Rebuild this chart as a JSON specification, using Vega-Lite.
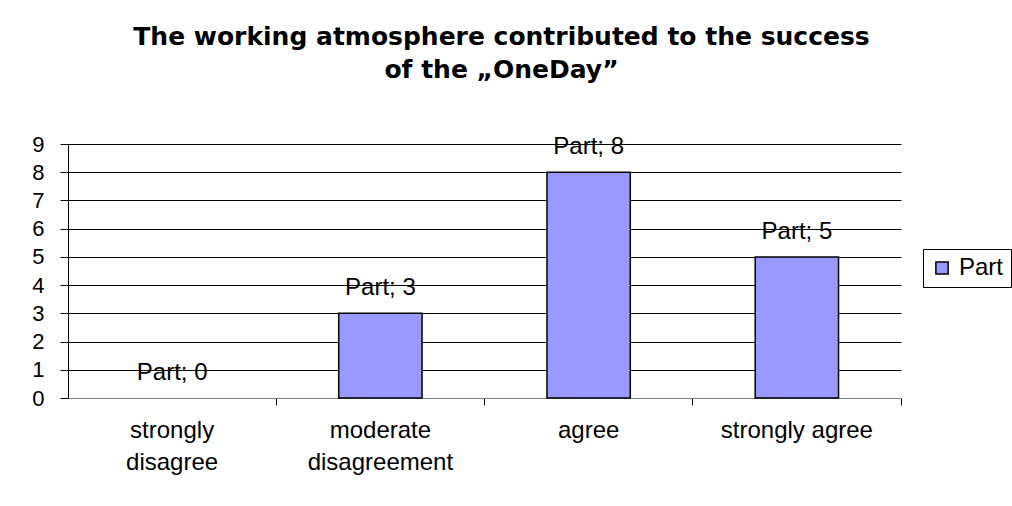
{
  "$schema": "https://vega.github.io/schema/vega-lite/v6.json",
  "autosize": {"type": "none"},
  "padding": {"left": 68, "top": 144, "right": 111, "bottom": 108},
  "width": 833,
  "height": 254,
  "background": "white",
  "title": {
    "text": ["The working atmosphere contributed to the success", "of the „OneDay”"],
    "font": "DejaVu Sans",
    "fontSize": 25,
    "fontWeight": "bold",
    "color": "#000000",
    "lineHeight": 33,
    "anchor": "middle",
    "dx": 17,
    "offset": 50
  },
  "data": {
    "values": [
      {"category": "strongly disagree", "series": "Part", "value": 0, "label": "Part; 0"},
      {"category": "moderate disagreement", "series": "Part", "value": 3, "label": "Part; 3"},
      {"category": "agree", "series": "Part", "value": 8, "label": "Part; 8"},
      {"category": "strongly agree", "series": "Part", "value": 5, "label": "Part; 5"}
    ]
  },
  "encoding": {
    "x": {
      "field": "category",
      "type": "nominal",
      "sort": null,
      "scale": {"paddingInner": 0, "paddingOuter": 0},
      "axis": {
        "title": null,
        "labelAngle": 0,
        "labelFont": "Liberation Sans",
        "labelFontSize": 24,
        "labelColor": "#000000",
        "labelLineHeight": 32,
        "labelPadding": 13,
        "labelExpr": "datum.label == 'strongly disagree' ? ['strongly', 'disagree'] : datum.label == 'moderate disagreement' ? ['moderate', 'disagreement'] : datum.label",
        "bandPosition": 1,
        "tickSize": 7,
        "tickColor": "#000000",
        "domainColor": "#808080",
        "grid": false
      }
    },
    "y": {
      "field": "value",
      "type": "quantitative",
      "scale": {"domain": [0, 9], "nice": false},
      "axis": {
        "title": null,
        "values": [0, 1, 2, 3, 4, 5, 6, 7, 8, 9],
        "labelOverlap": false,
        "labelFont": "Liberation Sans",
        "labelFontSize": 22,
        "labelColor": "#000000",
        "labelPadding": 16,
        "tickSize": 8,
        "tickColor": "#000000",
        "domainColor": "#000000",
        "gridColor": "#000000",
        "gridOpacity": 1
      }
    }
  },
  "layer": [
    {
      "mark": {"type": "bar", "width": {"band": 0.4}, "stroke": "#000000", "strokeWidth": 1.5},
      "encoding": {
        "fill": {
          "field": "series",
          "type": "nominal",
          "scale": {"range": ["#9999FF"]},
          "legend": {
            "title": null,
            "orient": "none",
            "legendX": 855,
            "legendY": 105,
            "symbolType": "square",
            "symbolSize": 150,
            "symbolStrokeColor": "#000000",
            "symbolStrokeWidth": 1.5,
            "labelFont": "Liberation Sans",
            "labelFontSize": 24,
            "labelColor": "#000000",
            "labelOffset": 5,
            "strokeColor": "#000000",
            "padding": 7
          }
        },
        "strokeOpacity": {"condition": {"test": "datum.value == 0", "value": 0}, "value": 1}
      }
    },
    {
      "mark": {"type": "text", "font": "Liberation Sans", "fontSize": 24, "color": "#000000", "baseline": "middle", "dy": -25},
      "encoding": {
        "text": {"field": "label"}
      }
    }
  ],
  "config": {"view": {"stroke": null}}
}
